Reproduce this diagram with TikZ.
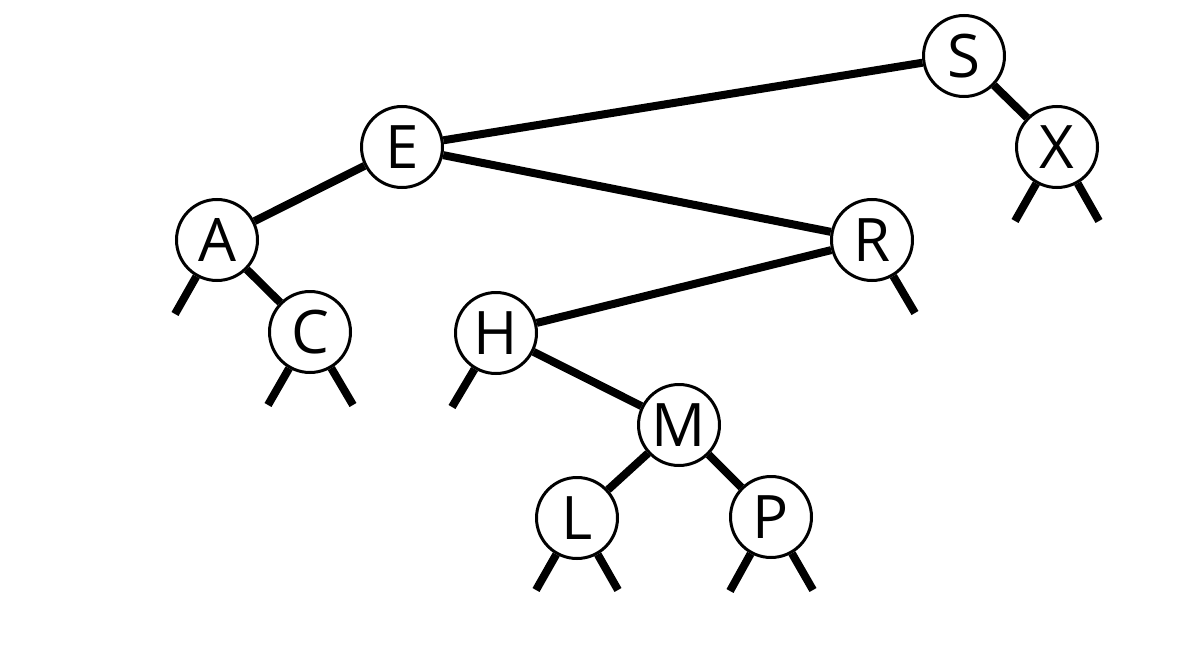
\documentclass[tikz,border=0pt]{standalone}
\usepackage{fontspec}
\setmainfont{Open Sans}
\usetikzlibrary{calc}
\begin{document}
\begin{tikzpicture}[x=1pt,y=-1pt,
  keynode/.style={circle,draw,line width=3pt,minimum size=81pt,inner sep=0pt,fill=white,font=\fontsize{60}{60}\selectfont},
  link/.style={line width=8pt},
  stub/.style={line width=8pt}]
\useasboundingbox (0,0) rectangle (1200,669);
\node[keynode] (S) at (964,56) {S};
\node[keynode] (E) at (402,147) {E};
\node[keynode] (X) at (1057,147) {X};
\node[keynode] (A) at (217,240) {A};
\node[keynode] (R) at (872,240) {R};
\node[keynode] (C) at (310,332) {C};
\node[keynode] (H) at (496,333) {H};
\node[keynode] (M) at (679,425) {M};
\node[keynode] (L) at (577,518) {L};
\node[keynode] (P) at (771,517) {P};
% connectors
\draw[link] (S) -- (E);
\draw[link] (S) -- (X);
\draw[link] (E) -- (A);
\draw[link] (E) -- (R);
\draw[link] (A) -- (C);
\draw[link] (R) -- (H);
\draw[link] (H) -- (M);
\draw[link] (M) -- (L);
\draw[link] (M) -- (P);
% null stubs
\coordinate (xl) at ($(X)+(-42,74)$);
\coordinate (xr) at ($(X)+(42,74)$);
\coordinate (al) at ($(A)+(-42,74)$);
\coordinate (rr) at ($(R)+(43,73)$);
\coordinate (cl) at ($(C)+(-42,73)$);
\coordinate (cr) at ($(C)+(43,73)$);
\coordinate (hl) at ($(H)+(-44,74)$);
\coordinate (ll) at ($(L)+(-41,72)$);
\coordinate (lr) at ($(L)+(41,72)$);
\coordinate (pl) at ($(P)+(-41,74)$);
\coordinate (pr) at ($(P)+(42,73)$);
\draw[stub] (X) -- (xl);
\draw[stub] (X) -- (xr);
\draw[stub] (A) -- (al);
\draw[stub] (R) -- (rr);
\draw[stub] (C) -- (cl);
\draw[stub] (C) -- (cr);
\draw[stub] (H) -- (hl);
\draw[stub] (L) -- (ll);
\draw[stub] (L) -- (lr);
\draw[stub] (P) -- (pl);
\draw[stub] (P) -- (pr);
\end{tikzpicture}
\end{document}
